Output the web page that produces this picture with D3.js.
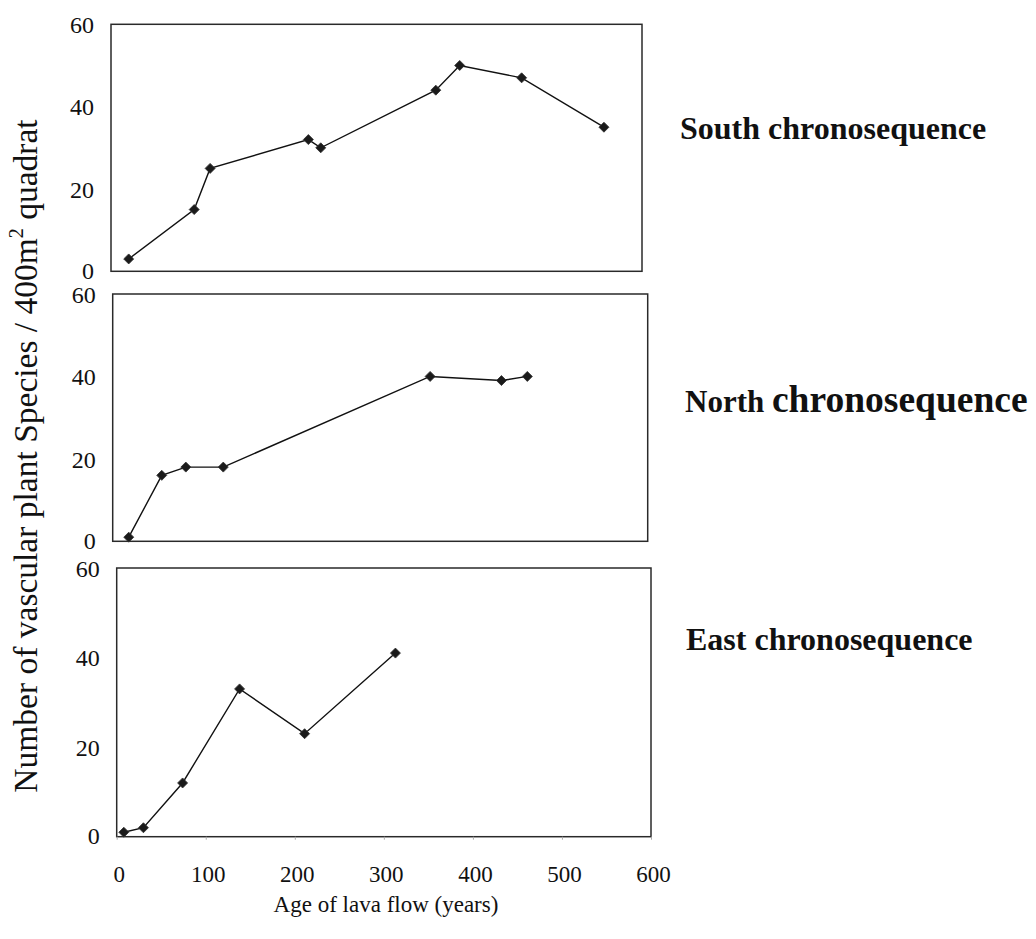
<!DOCTYPE html>
<html>
<head>
<meta charset="utf-8">
<script src="https://cdn.jsdelivr.net/npm/d3@7"></script>
<style>
  html, body { margin: 0; padding: 0; background: #fff; }
  svg { display: block; }
  text { font-family: "Liberation Serif", "Times New Roman", serif; fill: #111; }
</style>
</head>
<body>
<svg id="chart" width="1036" height="939"></svg>
<script>
// Species richness along three lava-flow chronosequences
const southAge = [20, 94, 112, 223, 237, 367, 394, 464, 557];
const southSpecies = [3, 15, 25, 32, 30, 44, 50, 47, 35];

const northAge = [18, 55, 82, 124, 356, 436, 465];
const northSpecies = [1, 16, 18, 18, 40, 39, 40];

const eastAge = [8, 30, 74, 138, 211, 313];
const eastSpecies = [1, 2, 12, 33, 23, 41];

const ageDomain = [0, 600];
const speciesDomain = [0, 60];
const ageTicks = [0, 100, 200, 300, 400, 500, 600];
const speciesTicks = [0, 20, 40, 60];

const seriesNames = ["South", "North", "East"];
const xTitle = "Age of lava flow (years)";

// panel frames (plot-area boxes)
const panels = [
  { name: seriesNames[0], age: southAge, species: southSpecies, x0: 111, x1: 642, y0: 24.3, y1: 271.3, labelX: 680, labelY: 139, showX: false },
  { name: seriesNames[1], age: northAge, species: northSpecies, x0: 112.7, x1: 647.7, y0: 294, y1: 541.3, labelX: 685, labelY: 412, showX: false },
  { name: seriesNames[2], age: eastAge, species: eastSpecies, x0: 116.7, x1: 651, y0: 568, y1: 836.7, labelX: 686, labelY: 650, showX: true }
];

const svg = d3.select("#chart");

panels.forEach(p => {
  const x = d3.scaleLinear().domain(ageDomain).range([p.x0, p.x1]);
  const y = d3.scaleLinear().domain(speciesDomain).range([p.y1, p.y0]);
  const g = svg.append("g");

  // frame
  g.append("rect")
    .attr("x", p.x0).attr("y", p.y0)
    .attr("width", p.x1 - p.x0).attr("height", p.y1 - p.y0)
    .attr("fill", "none").attr("stroke", "#2a2a2a").attr("stroke-width", 1.5);

  // y tick labels
  g.selectAll("text.ytick").data(speciesTicks).join("text")
    .attr("class", "ytick")
    .attr("x", p.x0 - 17)
    .attr("y", d => y(d))
    .attr("dy", d => d === 0 ? "0.3em" : "0.36em")
    .attr("text-anchor", "end")
    .style("font-size", "24px")
    .text(d => d);

  if (p.showX) {
    const axis = d3.axisBottom(x).tickValues(ageTicks).tickSize(3).tickPadding(26);
    const ax = g.append("g").attr("transform", `translate(0,${p.y1})`).call(axis);
    ax.select(".domain").remove();
    ax.selectAll(".tick line").attr("stroke", "#aaa");
    ax.selectAll(".tick text")
      .attr("dx", "2")
      .style("font-family", "'Liberation Serif', 'Times New Roman', serif")
      .style("font-size", "23px")
      .attr("fill", "#111");
  }

  const pts = p.age.map((a, i) => [a, p.species[i]]);

  g.append("path")
    .datum(pts)
    .attr("fill", "none")
    .attr("stroke", "#111")
    .attr("stroke-width", 1.4)
    .attr("d", d3.line().x(d => x(d[0])).y(d => y(d[1])));

  const marker = d3.symbol(d3.symbolSquare, 50);
  g.selectAll("path.pt").data(pts).join("path")
    .attr("class", "pt")
    .attr("d", marker)
    .attr("transform", d => `translate(${x(d[0])},${y(d[1])}) rotate(45)`)
    .attr("fill", "#1a1a1a")
    .attr("stroke", "#333")
    .attr("stroke-width", 0.8);

  // series label to the right of the panel
  const lab = svg.append("text")
    .attr("x", p.labelX).attr("y", p.labelY)
    .style("font-weight", "bold");
  if (p.name === "North") {
    lab.append("tspan").style("font-size", "31px").text(p.name + " ");
    lab.append("tspan").style("font-size", "37.5px").text("chronosequence");
  } else {
    lab.style("font-size", "32px").text(p.name + " chronosequence");
  }
});

// shared x-axis title
svg.append("text")
  .attr("x", 386).attr("y", 912)
  .attr("text-anchor", "middle")
  .style("font-size", "23px")
  .text(xTitle);

// shared y-axis title
const yt = svg.append("text")
  .attr("transform", "translate(37,456) rotate(-90)")
  .attr("text-anchor", "middle")
  .style("font-size", "33.5px");
yt.append("tspan").text("Number of vascular plant Species / 400m");
yt.append("tspan").attr("dy", "-0.7em").style("font-size", "20px").text("2");
yt.append("tspan").attr("dy", "0.42em").text(" quadrat");
</script>
</body>
</html>
